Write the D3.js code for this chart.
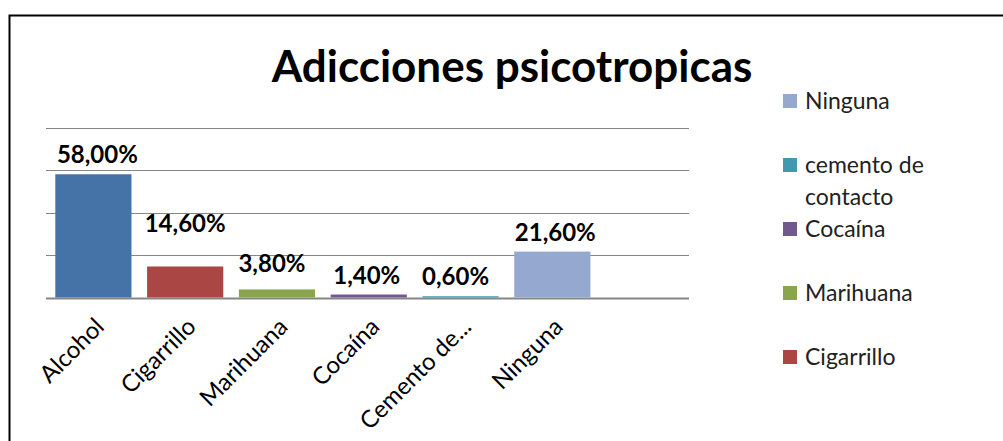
<!DOCTYPE html>
<html>
<head>
<meta charset="utf-8">
<script src="https://cdn.jsdelivr.net/npm/d3@7"></script>
<style>
  body { margin: 0; background: #fff; }
  svg { display: block; }
</style>
</head>
<body>
<div id="container"></div>
<script>
// data
const categories = ["Alcohol", "Cigarrillo", "Marihuana", "Cocaína", "Cemento de...", "Ninguna"];
const values = [58.0, 14.6, 3.8, 1.4, 0.6, 21.6];
const colors = ["#4572A7", "#AA4643", "#89A54E", "#71588F", "#4198AF", "#95A9D0"];
const yTicks = [0, 20, 40, 60, 80];
// legend (Alcohol is not shown in the original legend)
const legendNames = [["Ninguna"], ["cemento de", "contacto"], ["Cocaína"], ["Marihuana"], ["Cigarrillo"]];
const legendIndex = [5, 4, 3, 2, 1];

// label nudges, the original labels were moved by hand
const labelDx = [4, 0, -5, -2, -5, 3];
const labelDy = [0, 23, 6, 0, 0, 0];

const W = 1003, H = 441;
const fmt = d3.formatLocale({decimal: ",", thousands: ".", grouping: [3], currency: ["", ""]}).format(".2f");

let viz = d3.select("#container")
  .append("svg")
    .attr("width", W)
    .attr("height", H)
;

viz.append("rect")
    .attr("width", W)
    .attr("height", H)
    .attr("fill", "white")
;

// frame
viz.append("path")
    .attr("d", "M9.5," + H + " V15.5 H" + W)
    .attr("fill", "none")
    .attr("stroke", "black")
    .attr("stroke-width", 2)
;

// scales, one empty slot at the end like the original
const x = d3.scaleBand()
    .domain(categories.concat([" "]))
    .range([47.5, 690])
    .paddingInner(0.17)
    .paddingOuter(0.085)
;
const y = d3.scaleLinear()
    .domain([0, 80])
    .range([297.5, 127.5])
;

// gridlines
viz.append("g")
  .selectAll("line")
  .data(yTicks)
  .join("line")
    .attr("x1", 46)
    .attr("x2", 689)
    .attr("y1", d => Math.round(y(d)) + 0.5)
    .attr("y2", d => Math.round(y(d)) + 0.5)
    .attr("stroke", "#868686")
    .attr("stroke-width", d => d === 0 ? 2 : 1.2)
;

// bars
viz.append("g")
  .selectAll("rect")
  .data(values)
  .join("rect")
    .attr("x", (d, i) => x(categories[i]))
    .attr("y", d => y(d))
    .attr("width", x.bandwidth())
    .attr("height", d => y(0) - y(d))
    .attr("fill", (d, i) => colors[i])
;

// value labels
viz.append("g")
  .selectAll("text")
  .data(values)
  .join("text")
    .text(d => fmt(d) + "%")
    .attr("x", (d, i) => x(categories[i]) + x.bandwidth() / 2 + labelDx[i])
    .attr("y", (d, i) => y(d) - 11 - labelDy[i])
    .attr("text-anchor", "middle")
    .attr("font-family", "Lato")
    .attr("font-weight", "bold")
    .attr("font-size", 24)
    .attr("fill", "black")
;

// category labels
viz.append("g")
  .selectAll("text")
  .data(categories)
  .join("text")
    .text(d => d)
    .attr("transform", d => "translate(" + (x(d) + x.bandwidth() / 2) + ",316) rotate(-45)")
    .attr("dy", "0.72em")
    .attr("text-anchor", "end")
    .attr("font-family", "Lato")
    .attr("font-size", 24)
    .attr("fill", "black")
;

// title
viz.append("text")
    .text("Adicciones psicotropicas")
    .attr("x", 512)
    .attr("y", 82)
    .attr("text-anchor", "middle")
    .attr("font-family", "Lato")
    .attr("font-weight", "bold")
    .attr("font-size", 44)
    .attr("fill", "black")
;

// legend
let legend = viz.append("g")
  .selectAll("g")
  .data(legendNames)
  .join("g")
    .attr("transform", (d, i) => "translate(783," + (109 + i * 64) + ")")
;
legend.append("rect")
    .attr("x", 0)
    .attr("y", -15)
    .attr("width", 14)
    .attr("height", 14)
    .attr("fill", (d, i) => colors[legendIndex[i]])
;
legend.append("text")
    .attr("font-family", "Lato")
    .attr("font-size", 23)
    .attr("fill", "#222")
  .selectAll("tspan")
  .data(d => d)
  .join("tspan")
    .attr("x", 22)
    .attr("y", (d, j) => j * 32)
    .text(d => d)
;
</script>
</body>
</html>
